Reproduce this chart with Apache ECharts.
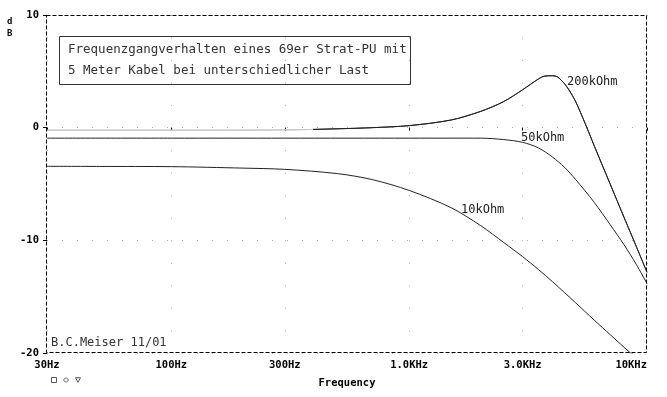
<!DOCTYPE html>
<html><head><meta charset="utf-8">
<script src="https://cdn.jsdelivr.net/npm/echarts@6/dist/echarts.min.js"></script>
<style>html,body{margin:0;padding:0;background:#fff}#c{width:667px;height:397px}</style>
</head><body><div id="c"></div>
<script>
// ---- data ----
const freq10k = [30, 50, 100, 200, 300, 500, 700, 1000, 1500, 2000, 2500, 3000, 3500, 4000, 4500, 5000, 6000, 7000, 8000, 9000, 10000];
const db10k = [-3.43, -3.44, -3.46, -3.59, -3.70, -4.08, -4.61, -5.57, -7.10, -8.70, -10.20, -11.45, -12.60, -13.66, -14.64, -15.53, -17.08, -18.37, -19.48, -20.45, -21.34];
const freq50k = [30, 100, 300, 1000, 1500, 2000, 2500, 3000, 3500, 4000, 4500, 5000, 6000, 7000, 8000, 9000, 10000];
const db50k = [-0.93, -0.93, -0.93, -0.93, -0.93, -0.93, -1.06, -1.30, -1.80, -2.60, -3.52, -4.58, -6.63, -8.61, -10.38, -12.11, -13.84];
const freq200k = [30, 100, 300, 500, 700, 1000, 1500, 2000, 2500, 3000, 3500, 3700, 4000, 4200, 4500, 4700, 5000, 5500, 6000, 7000, 8000, 9000, 10000];
const db200k = [-0.22, -0.22, -0.20, -0.10, 0.00, 0.18, 0.68, 1.45, 2.32, 3.37, 4.33, 4.57, 4.61, 4.51, 3.90, 3.34, 2.36, 0.35, -1.61, -5.00, -7.94, -10.51, -12.84];
const seriesNames = ['10kOhm', '50kOhm', '200kOhm'];
const tickFreqs = [30, 100, 300, 1000, 3000, 10000];
const tickLabels = ['30Hz', '100Hz', '300Hz', '1.0KHz', '3.0KHz', '10KHz'];
const yMin = -20, yMax = 10, yStep = 10;
const titleLines = ['Frequenzgangverhalten eines 69er Strat-PU mit', '5 Meter Kabel bei unterschiedlicher Last'];
const authorText = 'B.C.Meiser 11/01';
const xName = 'Frequency';
const yNameChars = ['d', 'B'];
const faintBelowHz = 395; // 200kOhm trace drawn faint below this frequency in the reference

// ---- helpers ----
const lg = Math.log10;
const pairs = (fs, vs) => fs.map((f, i) => [lg(f), vs[i]]);
const MONO = "'DejaVu Sans Mono', 'Liberation Mono', monospace";
const LINE = '#222';
const FAINT = '#c4c4c4';
const LABEL_FS = 10.5;

const chart = echarts.init(document.getElementById('c'), null, {renderer: 'canvas'});

const G = {left: 47, top: 15, right: 20, bottom: 44};
const gw = 667 - G.left - G.right, gh = 397 - G.top - G.bottom;

const seriesData = [pairs(freq10k, db10k), pairs(freq50k, db50k), pairs(freq200k, db200k)];
const lastIdx = tickFreqs.length - 1;
// width of last label (monospace), used to right-align it at the plot edge like the reference
const lastLabelW = tickLabels[lastIdx].length * LABEL_FS * 0.602;

chart.setOption({
  animation: false,
  grid: {left: G.left, top: G.top, right: G.right, bottom: G.bottom, containLabel: false},
  xAxis: {
    type: 'value', min: lg(tickFreqs[0]), max: lg(tickFreqs[lastIdx]),
    name: xName, nameLocation: 'middle', nameGap: 25,
    nameTextStyle: {fontFamily: MONO, fontWeight: 'bold', fontSize: LABEL_FS, color: '#000'},
    axisLine: {show: false},
    axisTick: {show: true, length: 3, customValues: tickFreqs.map(lg), lineStyle: {color: '#000'}},
    axisLabel: {
      customValues: tickFreqs.map(lg), margin: 7,
      fontFamily: MONO, fontWeight: 'bold', fontSize: LABEL_FS, color: '#000',
      rich: {r: {fontFamily: MONO, fontWeight: 'bold', fontSize: LABEL_FS, color: '#000',
                 padding: [0, lastLabelW, 0, 0]}},
      formatter: v => {
        const i = tickFreqs.findIndex(f => Math.abs(lg(f) - v) < 1e-6);
        if (i < 0) return '';
        return i === lastIdx ? '{r|' + tickLabels[i] + '}' : tickLabels[i];
      }
    },
    splitLine: {show: true, lineStyle: {color: '#b0b0b0', width: 1, type: [1, 21.53]}}
  },
  yAxis: {
    type: 'value', min: yMin, max: yMax, interval: yStep,
    axisLine: {show: false},
    axisTick: {show: true, length: 4, lineStyle: {color: '#000'}},
    axisLabel: {margin: 8, fontFamily: MONO, fontWeight: 'bold', fontSize: LABEL_FS, color: '#000'},
    splitLine: {show: true, lineStyle: {color: '#b0b0b0', width: 1, type: [1, 14]}}
  },
  legend: {
    left: 51, top: 377, padding: 0, itemWidth: 5, itemHeight: 5, itemGap: 6,
    selectedMode: false,
    formatter: () => '',
    textStyle: {fontSize: 1},
    itemStyle: {color: '#fff', borderColor: '#555', borderWidth: 1},
    data: [
      {name: seriesNames[0], icon: 'rect'},
      {name: seriesNames[1], icon: 'diamond'},
      {name: seriesNames[2], icon: 'path://M0,0L10,0L5,9Z'}
    ]
  },
  series: seriesNames.map((n, i) => ({
    name: n, type: 'line', data: seriesData[i],
    symbol: 'none', showSymbol: false, smooth: 0.3, clip: true,
    lineStyle: {color: LINE, width: 1}, itemStyle: {color: LINE}, z: 3
  })),
  graphic: [
    {type: 'rect', z: 10, silent: true,
     shape: {x: G.left - 0.5, y: G.top + 0.5, width: gw, height: gh - 1},
     style: {fill: 'none', stroke: '#000', lineWidth: 1, lineDash: [4, 2]}},
    {type: 'rect', z: 10, silent: true,
     shape: {x: 59.5, y: 36.5, width: 351, height: 48},
     style: {fill: 'none', stroke: '#333', lineWidth: 1}},
    {type: 'text', z: 11, left: 68, top: 43,
     style: {text: titleLines[0], font: '12.5px ' + MONO, fill: '#333'}},
    {type: 'text', z: 11, left: 68, top: 64,
     style: {text: titleLines[1], font: '12.5px ' + MONO, fill: '#333'}},
    {type: 'text', z: 11, left: 51, top: 337,
     style: {text: authorText, font: '12px ' + MONO, fill: '#333'}},
    {type: 'text', z: 11, left: 7, top: 17,
     style: {text: yNameChars[0], font: 'bold 9px ' + MONO, fill: '#000'}},
    {type: 'text', z: 11, left: 7, top: 29,
     style: {text: yNameChars[1], font: 'bold 9px ' + MONO, fill: '#000'}},
    {type: 'text', z: 11, left: 567, top: 76,
     style: {text: seriesNames[2], font: '12px ' + MONO, fill: '#222'}},
    {type: 'text', z: 11, left: 521, top: 132,
     style: {text: seriesNames[1], font: '12px ' + MONO, fill: '#222'}},
    {type: 'text', z: 11, left: 461, top: 204,
     style: {text: seriesNames[0], font: '12px ' + MONO, fill: '#222'}}
  ]
});

// faint start of the 200kOhm trace: gradient split at the axis position of faintBelowHz
const cut = chart.convertToPixel({xAxisIndex: 0}, lg(faintBelowHz));
const W = chart.getWidth();
const off = Math.min(Math.max(cut / W, 0), 1);
chart.setOption({
  series: [{}, {}, {
    lineStyle: {color: new echarts.graphic.LinearGradient(0, 0, W, 0, [
      {offset: 0, color: FAINT}, {offset: off, color: FAINT},
      {offset: off, color: LINE}, {offset: 1, color: LINE}
    ], true)}
  }]
});
</script>
</body></html>
